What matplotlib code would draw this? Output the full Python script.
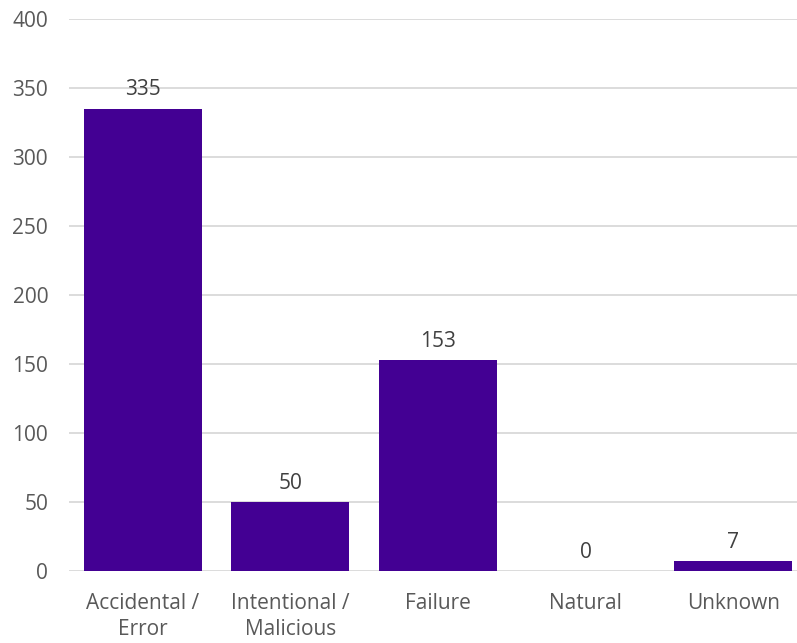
import matplotlib
matplotlib.use("Agg")
import matplotlib.pyplot as plt

categories = ["Accidental /\nError", "Intentional /\nMalicious", "Failure", "Natural", "Unknown"]
values = [335, 50, 153, 0, 7]
yticks = [0, 50, 100, 150, 200, 250, 300, 350, 400]

plt.rcParams['font.family'] = ['Open Sans', 'DejaVu Sans']

fig = plt.figure(figsize=(7.97, 6.43), dpi=100)
# plot area in pixels: left 69, bottom 571, top 19, slot width ~147.6
ax = fig.add_axes([69 / 797, (643 - 571) / 643, (797 - 69) / 797, (571 - 19) / 643])

x = range(len(categories))
bars = ax.bar(x, values, width=0.8, color="#430093", zorder=3)

ax.set_ylim(0, 400)
ax.set_xlim(-0.5, 4.5 - 10 / 147.6)
ax.set_yticks(yticks)
ax.set_xticks(list(x))
ax.set_xticklabels(categories, linespacing=1.3)
ax.yaxis.grid(True, color="#d9d9d9", linewidth=1.3, zorder=0)
for s in ax.spines.values():
    s.set_visible(False)
ax.tick_params(axis="both", length=0, labelsize=15, colors="#595959")
ax.tick_params(axis="y", pad=15)
ax.tick_params(axis="x", pad=16)

for b, v in zip(bars, values):
    ax.annotate(str(v), (b.get_x() + b.get_width() / 2, v), xytext=(0, 6),
                textcoords="offset points", ha="center", va="bottom",
                fontsize=15, color="#404040")

fig.savefig("out.png", dpi=100)
